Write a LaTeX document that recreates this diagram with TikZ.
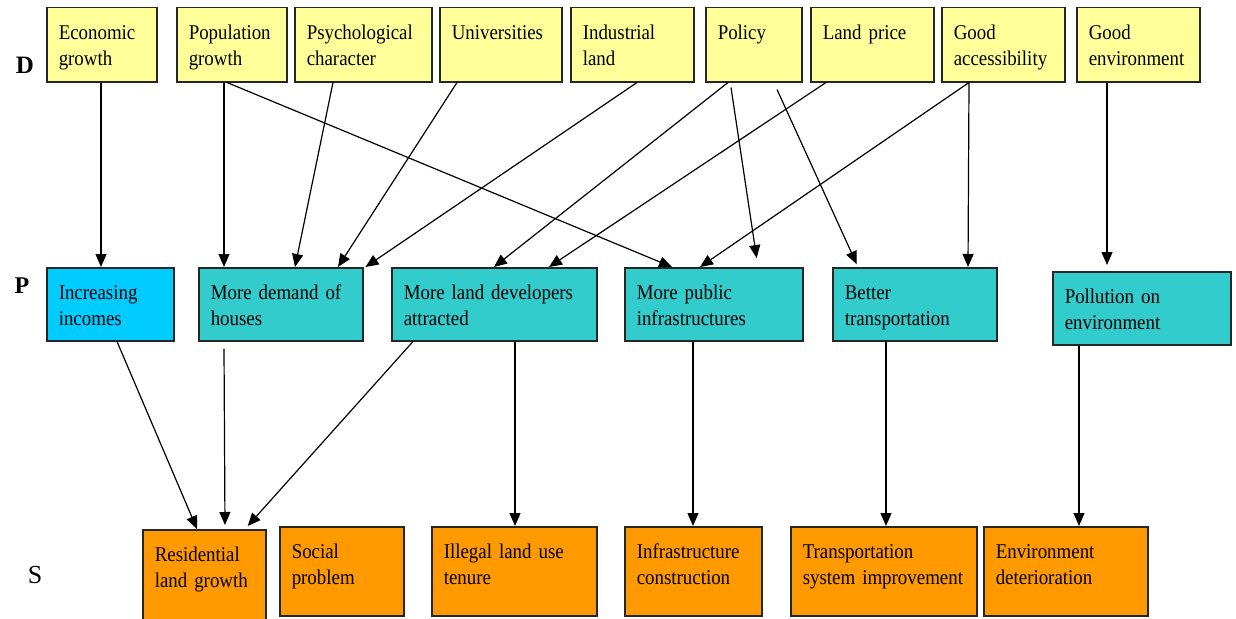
\documentclass[tikz,border=0pt]{standalone}
\usepackage{fontspec}
\setmainfont{Liberation Serif}[FakeStretch=0.9]
\newfontfamily\tagfont{Liberation Serif}
\usetikzlibrary{arrows.meta}

\definecolor{driverfill}{HTML}{FFFF99}
\definecolor{incomefill}{HTML}{00CCFF}
\definecolor{pressurefill}{HTML}{33CCCC}
\definecolor{statefill}{HTML}{FF9900}
\definecolor{boxline}{HTML}{262626}

\begin{document}
\begin{tikzpicture}[x=1pt,y=-1pt,
  box/.style={draw=boxline, line width=1.5pt, anchor=north west,
    inner xsep=12pt, inner ysep=0pt, align=left, text height=32pt,
    font=\fontsize{21}{26}\selectfont},
  drv/.style={box, fill=driverfill, text depth=42pt},
  prs/.style={box, fill=pressurefill, text depth=41pt},
  sta/.style={box, fill=statefill, text depth=57pt},
  rowtag/.style={anchor=base, inner sep=0pt},
  arr/.style={-{Triangle[length=13pt,width=11pt]}, line width=1.2pt, black},
]
\useasboundingbox (0,0) rectangle (1236,618);

% row tags
\node[rowtag, font=\tagfont\bfseries\fontsize{25}{25}\selectfont] (tagD) at (25,74) {D};
\node[rowtag, font=\tagfont\bfseries\fontsize{24}{24}\selectfont] (tagP) at (22,293) {P};
\node[rowtag, font=\tagfont\fontsize{26}{26}\selectfont] (tagS) at (35,583) {S};

% driving forces
\node[drv, text width=86pt]  (econ)    at (46,7)   {Economic\\growth};
\node[drv, text width=86pt]  (pop)     at (176,7)  {Population\\growth};
\node[drv, text width=113pt] (psych)   at (294,7)  {Psychological\\character};
\node[drv, text width=98pt]  (univ)    at (439,7)  {Universities};
\node[drv, text width=99pt]  (indus)   at (570,7)  {Industrial\\land};
\node[drv, text width=72pt]  (policy)  at (705,7)  {Policy};
\node[drv, text width=99pt]  (landp)   at (810,7)  {Land~price};
\node[drv, text width=99pt]  (access)  at (941,7)  {Good\\accessibility};
\node[drv, text width=99pt]  (envgood) at (1076,7) {Good\\environment};

% pressures
\node[prs, fill=incomefill, text width=103pt] (inc) at (46,267) {Increasing\\incomes};
\node[prs, text width=140pt] (demand) at (198,267)  {More~demand~of\\houses};
\node[prs, text width=181pt] (dev)    at (391,267)  {More~land~developers\\attracted};
\node[prs, text width=154pt] (pubinf) at (624,267)  {More~public\\infrastructures};
\node[prs, text width=140pt] (trans)  at (832,267)  {Better\\transportation};
\node[prs, text width=154pt] (poll)   at (1052,271) {Pollution~on\\environment};

% states
\node[sta, text width=99pt, text depth=63pt] (resid) at (142,529) {Residential\\land~growth};
\node[sta, text width=100pt] (social)  at (279,526) {Social\\problem};
\node[sta, text width=141pt] (illegal) at (431,526) {Illegal~land~use\\tenure};
\node[sta, text width=113pt] (infra)   at (624,526) {Infrastructure\\construction};
\node[sta, text width=162pt] (tsys)    at (790,526) {Transportation\\system~improvement};
\node[sta, text width=140pt] (envdet)  at (983,526) {Environment\\deterioration};

% drivers -> pressures
\draw[arr] ([xshift=55pt]econ.south west) -- ([xshift=55pt]inc.north west);
\draw[arr] ([xshift=48pt]pop.south west) -- ([xshift=26pt]demand.north west);
\draw[arr] ([xshift=51pt]pop.south west) -- ([xshift=48pt]pubinf.north west);
\draw[arr] ([xshift=39pt]psych.south west) -- ([xshift=97pt]demand.north west);
\draw[arr] ([xshift=18pt]univ.south west) -- ([xshift=140pt]demand.north west);
\draw[arr] ([xshift=67pt]indus.south west) -- ([xshift=2pt]demand.north east);
\draw[arr] ([xshift=23pt]policy.south west) -- ([xshift=103pt]dev.north west);
\draw[arr] ([xshift=16pt]landp.south west) -- ([xshift=158pt]dev.north west);
\draw[arr] ([xshift=28pt]access.south west) -- ([xshift=76pt]pubinf.north west);
\draw[arr, shorten >=9pt] ([xshift=26pt,yshift=-5pt]policy.south west) -- ([xshift=134pt]pubinf.north west);
\draw[arr, shorten >=3pt] ([xshift=72pt,yshift=-7pt]policy.south west) -- ([xshift=26pt]trans.north west);
\draw[arr] ([xshift=28pt]access.south west) -- ([xshift=136pt]trans.north west);
\draw[arr, shorten >=6pt] ([xshift=31pt]envgood.south west) -- ([xshift=55pt]poll.north west);

% pressures -> states
\draw[arr] ([xshift=71pt]inc.south west) -- ([xshift=55pt]resid.north west);
\draw[arr, shorten >=4pt] ([xshift=26pt,yshift=-7pt]demand.south west) -- ([xshift=83pt]resid.north west);
\draw[arr, shorten >=4pt] ([xshift=22pt]dev.south west) -- ([xshift=103pt]resid.north west);
\draw[arr] ([xshift=124pt]dev.south west) -- ([xshift=84pt]illegal.north west);
\draw[arr] ([xshift=69pt]pubinf.south west) -- ([xshift=69pt]infra.north west);
\draw[arr] ([xshift=54pt]trans.south west) -- ([xshift=96pt]tsys.north west);
\draw[arr] ([xshift=27pt]poll.south west) -- ([xshift=96pt]envdet.north west);
\end{tikzpicture}
\end{document}
